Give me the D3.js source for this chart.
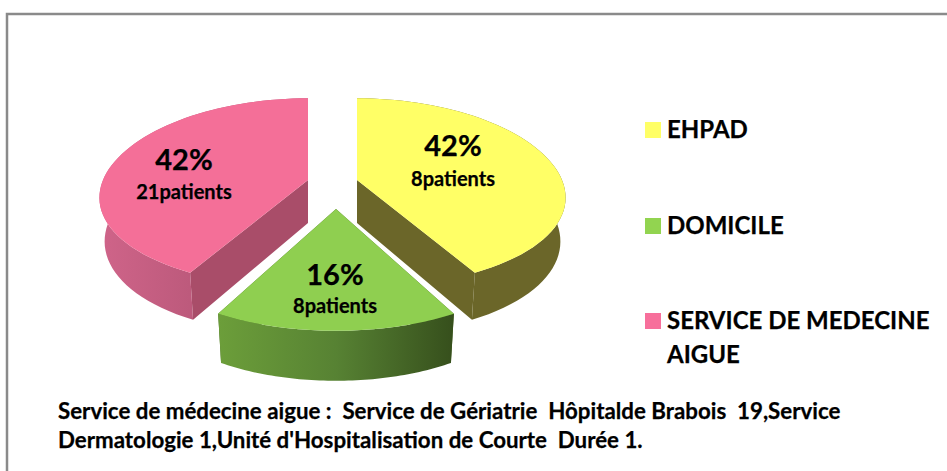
<!DOCTYPE html>
<html><head><meta charset="utf-8">
<script src="https://cdnjs.cloudflare.com/ajax/libs/d3/7.8.5/d3.min.js"></script>
<style>html,body{margin:0;padding:0;background:#fff}svg{display:block}text{font-family:Lato,"Open Sans",sans-serif;font-weight:700;fill:#000;stroke:#000;stroke-width:.25px}</style>
</head><body><svg id="c" width="947" height="471"></svg>
<script>
const categories = ["EHPAD","DOMICILE","SERVICE DE MEDECINE AIGUE"];
const percents = [42,16,42];
const patients = ["8patients","8patients","21patients"];
const percentLabels = ["42%","16%","42%"];
const footnoteLines = ["Service de médecine aigue :  Service de Gériatrie  Hôpitalde Brabois  19,Service","Dermatologie 1,Unité d'Hospitalisation de Courte  Durée 1."];

const topColors = ["#ffff66","#8fcf50","#f46f98"];
const legendColors = ["#ffff66","#92d450","#f76f9b"];
const wallStops = [["#6b6629","#6b6629"],["#6c9e3a","#578233","#364f1c"],["#cf6489","#bd5a7c"]];
const cutColors = ["#6b6629","#4a6a28","#a94d69"];
const layout = {
  cx:[357,336,308], cy:[180,209,180], ry:[93,105,93], depth:[43,45,43],
  rx:205, ky:.138, kx:.185, kd:.1, shrink:.975,
  labelDx:[96,-1,-124], labelPctY:[149,278,163], labelSubY:[181,308,194]
};
const svg = d3.select("#c");
const defs = svg.append("defs");

// frame
svg.append("path").attr("d","M7 471V14H947").attr("fill","none").attr("stroke","#8a8a8a").attr("stroke-width",2.5);

const arcs = d3.pie().sort(null).value(d=>d)(percents);
function project(i,a,r,bottom){
  const u=r*Math.sin(a), v=-r*Math.cos(a);
  const wx=1/(1-layout.kx*v), wy=1/(1-layout.ky*v), wd=1/(1-layout.kd*v);
  const rx=layout.rx*(bottom?layout.shrink:1);
  return [layout.cx[i]+rx*u*wx, layout.cy[i]+layout.ry[i]*v*wy+(bottom?layout.depth[i]*wd:0)];
}
const line=d3.line();
function arcPts(i,a0,a1,bottom){
  return d3.range(0,61).map(k=>project(i,a0+(a1-a0)*k/60,1,bottom));
}
const order=[0,2,1];
order.forEach(i=>{
  const s=arcs[i], g=svg.append("g");
  const top=arcPts(i,s.startAngle,s.endAngle,false), bot=arcPts(i,s.startAngle,s.endAngle,true);
  const xs=top.map(p=>p[0]);
  const gid="wall"+i;
  const grad=defs.append("linearGradient").attr("id",gid).attr("gradientUnits","userSpaceOnUse")
    .attr("x1",d3.min(xs)).attr("x2",d3.max(xs)).attr("y1",0).attr("y2",0);
  if(i===2) grad.attr("x2",project(i,s.startAngle,1,false)[0]);
  wallStops[i].forEach((c,k,arr)=>grad.append("stop").attr("offset",k/(arr.length-1)).attr("stop-color",c));
  // cut faces
  [s.startAngle,s.endAngle].forEach(a=>{
    const t0=project(i,a,0,false),t1=project(i,a,1,false),b1=project(i,a,1,true),b0=project(i,a,0,true);
    g.append("path").attr("d",line([t0,t1,b1,b0])+"Z").attr("fill",cutColors[i]);
  });
  g.append("path").attr("d",line(top.concat(bot.slice().reverse()))+"Z").attr("fill",`url(#${gid})`);
  g.append("path").attr("d",line([project(i,0,0,false)].concat(top))+"Z").attr("fill",topColors[i]);
});

// data labels
percents.forEach((p,i)=>{
  const x=layout.cx[i]+layout.labelDx[i];
  svg.append("text").attr("x",x).attr("y",layout.labelPctY[i]).attr("text-anchor","middle").attr("dominant-baseline","middle").attr("font-size",29).text(percentLabels[i]);
  svg.append("text").attr("x",x).attr("y",layout.labelSubY[i]).attr("text-anchor","middle").attr("dominant-baseline","middle").attr("font-size",20).text(patients[i]);
});

// legend
const legY=[130,226,321];
categories.forEach((c,i)=>{
  svg.append("rect").attr("x",645).attr("y",legY[i]-8).attr("width",16).attr("height",16).attr("fill",legendColors[i]);
  const t=svg.append("text").attr("x",667).attr("y",legY[i]+8).attr("font-size",24);
  if(i===2){
    t.append("tspan").text("SERVICE DE MEDECINE");
    t.append("tspan").attr("x",667).attr("dy",34).text("AIGUE");
  } else t.text(c);
});

// footnote
footnoteLines.forEach((l,i)=>{
  svg.append("text").attr("x",58).attr("y",419+i*29).attr("font-size",22.3).attr("xml:space","preserve").style("white-space","pre").text(l);
});
</script></body></html>
